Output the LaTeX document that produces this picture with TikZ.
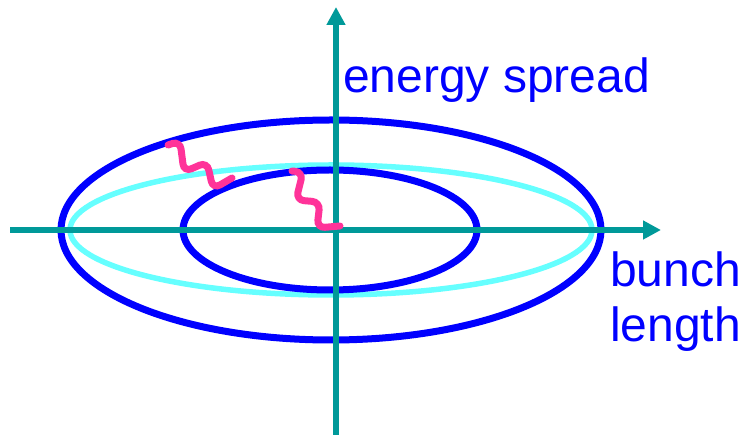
\documentclass[tikz,border=0pt]{standalone}
\usepackage{fontspec}
\setmainfont{Liberation Sans}
\usetikzlibrary{arrows.meta}
\definecolor{axisteal}{HTML}{009999}
\definecolor{ellblue}{HTML}{0000FF}
\definecolor{ellcyan}{HTML}{66FFFF}
\definecolor{wavepink}{HTML}{FF3399}
\begin{document}
\begin{tikzpicture}[x=1pt,y=-1pt,
  axisline/.style={draw=axisteal,line width=6pt,-{Triangle[length=18pt,width=18pt]}},
  blueell/.style={draw=ellblue,line width=7pt},
  cyanell/.style={draw=ellcyan,line width=5.5pt},
  wave/.style={draw=wavepink,line width=7pt,rounded corners=8pt,line cap=round},
  lbl/.style={text=ellblue,font=\fontsize{48}{56}\selectfont,inner sep=0pt,anchor=base west}]
\useasboundingbox (0,0) rectangle (745,435);
% ellipses
\draw[cyanell] (331,230) ellipse [x radius=261, y radius=65];
\draw[blueell] (331,230) ellipse [x radius=270, y radius=110];
\draw[blueell] (330,230) ellipse [x radius=147, y radius=60];
% axes
\coordinate (xs) at (10,230);
\coordinate (xe) at (661,230);
\coordinate (ys) at (336,436);
\coordinate (ye) at (336,7);
\draw[axisline] (xs) -- (xe);
\draw[axisline] (ys) -- (ye);
% wavy photons
\coordinate (w1s) at (168,145);
\coordinate (w1e) at (232,178);
\draw[wave] (w1s) -- (180,141) -- (184,172) -- (207,162) -- (213,189) -- (w1e);
\coordinate (w2s) at (292,171);
\coordinate (w2e) at (340,226);
\draw[wave] (w2s) -- (303,172) -- (296,200) -- (320,202) -- (317,228) -- (w2e);
% labels
\node[lbl] (es) at (343,93) {energy spread};
\node[lbl] (bunch) at (610,287) {bunch};
\node[lbl] (len) at (610,342) {length};
\end{tikzpicture}
\end{document}
